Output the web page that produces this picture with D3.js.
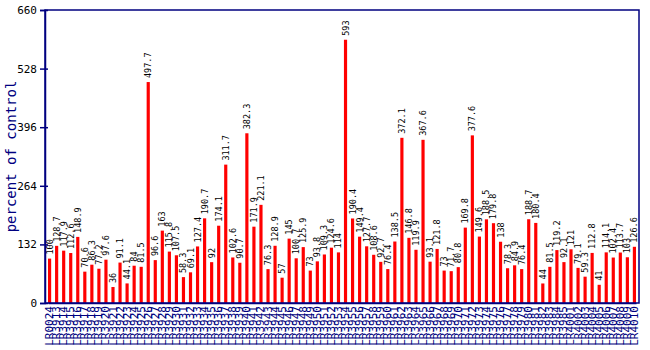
<!DOCTYPE html>
<html><head><meta charset="utf-8">
<script src="https://cdn.jsdelivr.net/npm/d3@7"></script>
<style>body{margin:0;background:#fff}</style>
</head><body>
<script>
const values = [100,128.7,117.9,112.6,148.9,70.6,86.3,77.2,97.6,36,91.1,44.1,84,81.5,497.7,96.6,163,115.8,107.5,58.3,69.1,127.4,190.7,92,174.1,311.7,102.6,90.7,
382.3,171.9,221.1,76.3,128.9,57,145,100.7,125.9,73,93.8,109.3,124.6,114,593,190.4,149.4,127.7,108.6,92.7,76.4,138.5,372.1,146.8,119.9,367.6,93.1,121.8,
73,71.7,80.8,169.8,377.6,149.6,188.5,179.8,138,78.3,84.9,76.4,188.7,180.4,44,81.5,119.2,92.1,121,79.1,59.3,112.8,41,114.1,102.4,113.7,103,126.6];
const categories = ["LR0024"];
for (let n = 3913; categories.length < 74; n++) categories.push("LR" + n);
for (let n = 4001; categories.length < 84; n++) categories.push("LR" + n);
const yTicks = [0,132,264,396,528,660];
const yTitle = "percent of control";

(function(){
const W = 650, H = 350;
const svg = d3.select("body").append("svg").attr("width", W).attr("height", H);
const pl = 45, pr = 639, pt = 10, pb = 303;
const x = d3.scaleBand().domain(categories).range([48, 636]).paddingInner(0.55).paddingOuter(0);
const y = d3.scaleLinear().domain([0, 660]).range([pb, pt]);
const navy = "#000080";
const font = "'DejaVu Sans Mono', monospace";

svg.append("g").selectAll("rect").data(values).join("rect")
  .attr("x", (d,i) => x(categories[i]))
  .attr("y", d => y(d))
  .attr("width", x.bandwidth())
  .attr("height", d => y(0) - y(d))
  .attr("fill", "#ff0000");

svg.append("g").selectAll("text").data(values).join("text")
  .attr("transform", (d,i) => `translate(${x(categories[i]) + x.bandwidth()/2 + 3},${y(d) - 4}) rotate(-90)`)
  .attr("font-family", font).attr("font-size", 8.5).attr("fill", "#000")
  .text(d => d);

svg.append("rect").attr("x", pl).attr("y", pt).attr("width", pr-pl).attr("height", pb-pt)
  .attr("fill", "none").attr("stroke", navy).attr("stroke-width", 1.5);

const ya = svg.append("g").attr("transform", `translate(${pl},0)`)
  .call(d3.axisLeft(y).tickValues(yTicks).tickSize(5).tickPadding(3));
ya.select(".domain").attr("stroke", navy).attr("stroke-width", 1.5);
ya.selectAll(".tick line").attr("stroke", navy).attr("stroke-width", 1.5).attr("x2", 3).attr("x1", -5);
ya.selectAll(".tick text").attr("font-family", font).attr("font-size", 11).attr("fill", "#000");

const xa = svg.append("g").attr("transform", `translate(0,${pb})`)
  .call(d3.axisBottom(x).tickSize(0).tickPadding(0));
xa.select(".domain").attr("stroke", navy).attr("stroke-width", 1.5);
xa.selectAll(".tick text")
  .attr("font-family", font).attr("font-size", 11).attr("fill", navy)
  .attr("text-anchor", "end").attr("dy", null).attr("y", 0)
  .attr("transform", "translate(3.5,3) rotate(-90)");

svg.append("text").attr("transform", `translate(16,${(pt+pb)/2}) rotate(-90)`)
  .attr("text-anchor", "middle").attr("font-family", font).attr("font-size", 14)
  .attr("fill", navy).text(yTitle);
})();
</script>
</body></html>
